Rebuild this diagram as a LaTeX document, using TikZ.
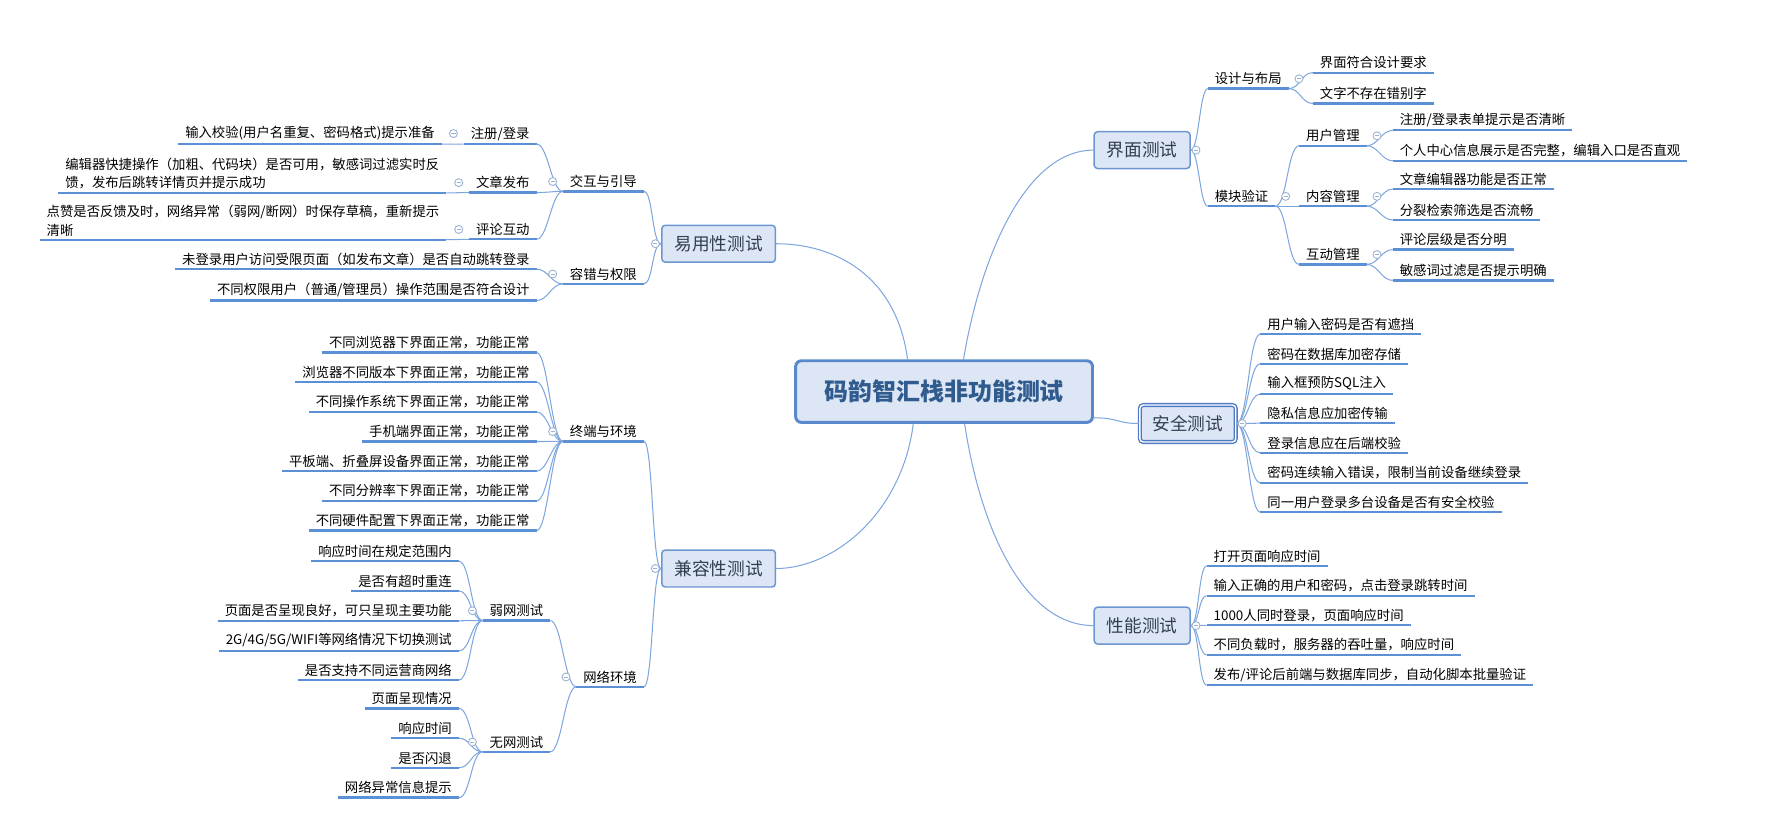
\documentclass[tikz,border=0pt]{standalone}
\usepackage{fontspec}
\setmainfont{Noto Sans CJK SC}
\usetikzlibrary{calc}
\definecolor{linec}{HTML}{7EA6DE}
\definecolor{ulc}{HTML}{5B8FD6}
\definecolor{boxfill}{HTML}{DCE6F4}
\definecolor{boxline}{HTML}{6C96D2}
\definecolor{rootline}{HTML}{5A88CC}
\definecolor{roottext}{HTML}{2F5B8E}
\definecolor{topictext}{HTML}{333F4F}
\definecolor{foldc}{HTML}{9DB3D3}
\definecolor{selline}{HTML}{4F7BC4}

\tikzset{
  item/.style={inner xsep=6, inner ysep=3, font=\fontsize{11.7}{16}\selectfont,
    append after command={\pgfextra{\let\thisnode=\tikzlastnode}
      (\thisnode.south west) edge[ulc, line width=2] (\thisnode.south east)}},
  topic/.style={draw=boxline, line width=1.3, fill=boxfill, rounded corners=3,
    inner xsep=11, inner ysep=9, text=topictext, font=\fontsize{15.5}{18}\selectfont},
  picked/.style={draw=selline, line width=1.2, double=white, double distance=1.2},
  rootnode/.style={draw=rootline, line width=2.6, fill=boxfill, rounded corners=5,
    minimum width=260, minimum height=54, text=roottext,
    font=\fontsize{21}{25}\selectfont\bfseries},
  twig/.style={linec, line width=0.9,
    to path={(\tikztostart) .. controls ([xshift=#1]\tikztostart)
      and ([xshift={-(#1)}]\tikztotarget) .. (\tikztotarget)}},
  twig/.default=10,
  link/.style={linec, line width=0.9},
  foldmark/.pic={\draw[foldc, fill=white, line width=0.8] (0,0) circle (3.5);
    \draw[foldc, line width=0.8] (-1.8,0) -- (1.8,0);}
}

\begin{document}
\begin{tikzpicture}[x=1pt, y=-1pt]
  \useasboundingbox (0,0) rectangle (1568,720);

  % centre and main topics
  \node[rootnode] (root) at (827,343) {码韵智汇栈非功能测试};
  \node[topic] (ui) at (1000.5,131.5) {界面测试};
  \node[topic, picked] (sec) at (1040.5,371) {安全测试};
  \node[topic] (perf) at (1000.5,548) {性能测试};
  \node[topic] (easy) at (629.5,213.5) {易用性测试};
  \node[topic] (compat) at (629.5,498) {兼容性测试};

  % interface
  \node[item, anchor=west] (lay) at (1058,69) {设计与布局};
  \node[item, anchor=west] (lay1) at (1150,55) {界面符合设计要求};
  \node[item, anchor=west] (lay2) at (1150,82) {文字不存在错别字};
  \node[item, anchor=west] (mod) at (1058,172) {模块验证};
  \node[item, anchor=west] (usr) at (1138,119) {用户管理};
  \node[item, anchor=west] (usr1) at (1220,105) {注册/登录表单提示是否清晰};
  \node[item, anchor=west] (usr2) at (1220,132) {个人中心信息展示是否完整，编辑入口是否直观};
  \node[item, anchor=west] (cnt) at (1138,172) {内容管理};
  \node[item, anchor=west] (cnt1) at (1220,157) {文章编辑器功能是否正常};
  \node[item, anchor=west] (cnt2) at (1220,184) {分裂检索筛选是否流畅};
  \node[item, anchor=west] (act) at (1138,223) {互动管理};
  \node[item, anchor=west] (act1) at (1220,210) {评论层级是否分明};
  \node[item, anchor=west] (act2) at (1220,237) {敏感词过滤是否提示明确};

  % security
  \node[item, anchor=west] (sec1) at (1104,284) {用户输入密码是否有遮挡};
  \node[item, anchor=west] (sec2) at (1104,310) {密码在数据库加密存储};
  \node[item, anchor=west] (sec3) at (1104,336) {输入框预防SQL注入};
  \node[item, anchor=west] (sec4) at (1104,362) {隐私信息应加密传输};
  \node[item, anchor=west] (sec5) at (1104,388) {登录信息应在后端校验};
  \node[item, anchor=west] (sec6) at (1104,414) {密码连续输入错误，限制当前设备继续登录};
  \node[item, anchor=west] (sec7) at (1104,440) {同一用户登录多台设备是否有安全校验};

  % performance
  \node[item, anchor=west] (perf1) at (1057,487) {打开页面响应时间};
  \node[item, anchor=west] (perf2) at (1057,513) {输入正确的用户和密码，点击登录跳转时间};
  \node[item, anchor=west] (perf3) at (1057,539) {1000人同时登录，页面响应时间};
  \node[item, anchor=west] (perf4) at (1057,565) {不同负载时，服务器的吞吐量，响应时间};
  \node[item, anchor=west] (perf5) at (1057,591) {发布/评论后前端与数据库同步，自动化脚本批量验证};

  % usability
  \node[item, anchor=east] (guide) at (564,159) {交互与引导};
  \node[item, anchor=east] (reg) at (470,117) {注册/登录};
  \node[item, anchor=east] (reg1) at (387,117) {输入校验(用户名重复、密码格式)提示准备};
  \node[item, anchor=east] (post) at (470,160) {文章发布};
  \node[item, anchor=south east, align=left] (post1) at (391,169)
    {编辑器快捷操作（加粗、代码块）是否可用，敏感词过滤实时反\\馈，发布后跳转详情页并提示成功};
  \node[item, anchor=east] (talk) at (470,201) {评论互动};
  \node[item, anchor=south east, align=left] (talk1) at (391,210)
    {点赞是否反馈及时，网络异常（弱网/断网）时保存草稿，重新提示\\清晰};
  \node[item, anchor=east] (fault) at (564,240) {容错与权限};
  \node[item, anchor=east] (fault1) at (470,227) {未登录用户访问受限页面（如发布文章）是否自动跳转登录};
  \node[item, anchor=east] (fault2) at (470,254) {不同权限用户（普通/管理员）操作范围是否符合设计};

  % compatibility
  \node[item, anchor=east] (term) at (564,378) {终端与环境};
  \node[item, anchor=east] (term1) at (470,300) {不同浏览器下界面正常，功能正常};
  \node[item, anchor=east] (term2) at (470,326) {浏览器不同版本下界面正常，功能正常};
  \node[item, anchor=east] (term3) at (470,352) {不同操作系统下界面正常，功能正常};
  \node[item, anchor=east] (term4) at (470,378) {手机端界面正常，功能正常};
  \node[item, anchor=east] (term5) at (470,404) {平板端、折叠屏设备界面正常，功能正常};
  \node[item, anchor=east] (term6) at (470,430) {不同分辨率下界面正常，功能正常};
  \node[item, anchor=east] (term7) at (470,456) {不同硬件配置下界面正常，功能正常};
  \node[item, anchor=east] (net) at (564,593) {网络环境};
  \node[item, anchor=east] (weak) at (482,535) {弱网测试};
  \node[item, anchor=east] (weak1) at (402,483) {响应时间在规定范围内};
  \node[item, anchor=east] (weak2) at (402,509) {是否有超时重连};
  \node[item, anchor=east] (weak3) at (402,535) {页面是否呈现良好，可只呈现主要功能};
  \node[item, anchor=east] (weak4) at (402,561) {2G/4G/5G/WIFI等网络情况下切换测试};
  \node[item, anchor=east] (weak5) at (402,587) {是否支持不同运营商网络};
  \node[item, anchor=east] (off) at (482,650) {无网测试};
  \node[item, anchor=east] (off1) at (402,612) {页面呈现情况};
  \node[item, anchor=east] (off2) at (402,638) {响应时间};
  \node[item, anchor=east] (off3) at (402,664) {是否闪退};
  \node[item, anchor=east] (off4) at (402,690) {网络异常信息提示};

  % main links
  \draw[link] ([xshift=-32]root.north) .. controls (785,240) and (730,213.5) .. (easy.east);
  \draw[link] ([xshift=-27]root.south) .. controls (790,450) and (730,498) .. (compat.east);
  \draw[link] ([xshift=17]root.north) .. controls (860,220) and (900,131.5) .. (ui.west);
  \draw[link] ([xshift=18]root.south) .. controls (860,470) and (900,548) .. (perf.west);
  \draw[link] ([yshift=-23]root.east) .. controls (980,366) and (978,371) .. (sec.west);

  % right twigs
  \draw[twig=7] (ui.east) to (lay.south west);
  \draw[twig=7] (ui.east) to (mod.south west);
  \draw[twig] (lay.south east) to (lay1.south west);
  \draw[twig] (lay.south east) to (lay2.south west);
  \draw[twig] (mod.south east) to (usr.south west);
  \draw[twig] (mod.south east) to (cnt.south west);
  \draw[twig] (mod.south east) to (act.south west);
  \draw[twig] (usr.south east) to (usr1.south west);
  \draw[twig] (usr.south east) to (usr2.south west);
  \draw[twig] (cnt.south east) to (cnt1.south west);
  \draw[twig] (cnt.south east) to (cnt2.south west);
  \draw[twig] (act.south east) to (act1.south west);
  \draw[twig] (act.south east) to (act2.south west);
  \draw[twig] (sec.east) to (sec1.south west);
  \draw[twig] (sec.east) to (sec2.south west);
  \draw[twig] (sec.east) to (sec3.south west);
  \draw[twig] (sec.east) to (sec4.south west);
  \draw[twig] (sec.east) to (sec5.south west);
  \draw[twig] (sec.east) to (sec6.south west);
  \draw[twig] (sec.east) to (sec7.south west);
  \draw[twig=7] (perf.east) to (perf1.south west);
  \draw[twig=7] (perf.east) to (perf2.south west);
  \draw[twig=7] (perf.east) to (perf3.south west);
  \draw[twig=7] (perf.east) to (perf4.south west);
  \draw[twig=7] (perf.east) to (perf5.south west);

  % left twigs
  \draw[twig=-8] (easy.west) to (guide.south east);
  \draw[twig=-8] (easy.west) to (fault.south east);
  \draw[twig=-10] (guide.south west) to (reg.south east);
  \draw[twig=-10] (guide.south west) to (post.south east);
  \draw[twig=-10] (guide.south west) to (talk.south east);
  \draw[twig=-10] (reg.south west) to (reg1.south east);
  \draw[twig=-10] (post.south west) to (post1.south east);
  \draw[twig=-10] (talk.south west) to (talk1.south east);
  \draw[twig=-10] (fault.south west) to (fault1.south east);
  \draw[twig=-10] (fault.south west) to (fault2.south east);
  \draw[twig=-8] (compat.west) to (term.south east);
  \draw[twig=-8] (compat.west) to (net.south east);
  \draw[twig=-10] (term.south west) to (term1.south east);
  \draw[twig=-10] (term.south west) to (term2.south east);
  \draw[twig=-10] (term.south west) to (term3.south east);
  \draw[twig=-10] (term.south west) to (term4.south east);
  \draw[twig=-10] (term.south west) to (term5.south east);
  \draw[twig=-10] (term.south west) to (term6.south east);
  \draw[twig=-10] (term.south west) to (term7.south east);
  \draw[twig=-10] (net.south west) to (weak.south east);
  \draw[twig=-10] (net.south west) to (off.south east);
  \draw[twig=-10] (weak.south west) to (weak1.south east);
  \draw[twig=-10] (weak.south west) to (weak2.south east);
  \draw[twig=-10] (weak.south west) to (weak3.south east);
  \draw[twig=-10] (weak.south west) to (weak4.south east);
  \draw[twig=-10] (weak.south west) to (weak5.south east);
  \draw[twig=-10] (off.south west) to (off1.south east);
  \draw[twig=-10] (off.south west) to (off2.south east);
  \draw[twig=-10] (off.south west) to (off3.south east);
  \draw[twig=-10] (off.south west) to (off4.south east);

  % collapse marks
  \pic at ([xshift=4.5]ui.east) {foldmark};
  \pic at ([xshift=5]sec.east) {foldmark};
  \pic at ([xshift=4.5]perf.east) {foldmark};
  \pic at ([xshift=-5]easy.west) {foldmark};
  \pic at ([xshift=-5]compat.west) {foldmark};
  \pic at ([xshift=9]lay.east) {foldmark};
  \pic at ([xshift=9]mod.east) {foldmark};
  \pic at ([xshift=9]usr.east) {foldmark};
  \pic at ([xshift=9]cnt.east) {foldmark};
  \pic at ([xshift=9]act.east) {foldmark};
  \pic at ([xshift=-9]guide.west) {foldmark};
  \pic at ([xshift=-9]reg.west) {foldmark};
  \pic at ([xshift=-9]post.west) {foldmark};
  \pic at ([xshift=-9]talk.west) {foldmark};
  \pic at ([xshift=-9]fault.west) {foldmark};
  \pic at ([xshift=-9]term.west) {foldmark};
  \pic at ([xshift=-9]net.west) {foldmark};
  \pic at ([xshift=-9]weak.west) {foldmark};
  \pic at ([xshift=-9]off.west) {foldmark};
\end{tikzpicture}
\end{document}
